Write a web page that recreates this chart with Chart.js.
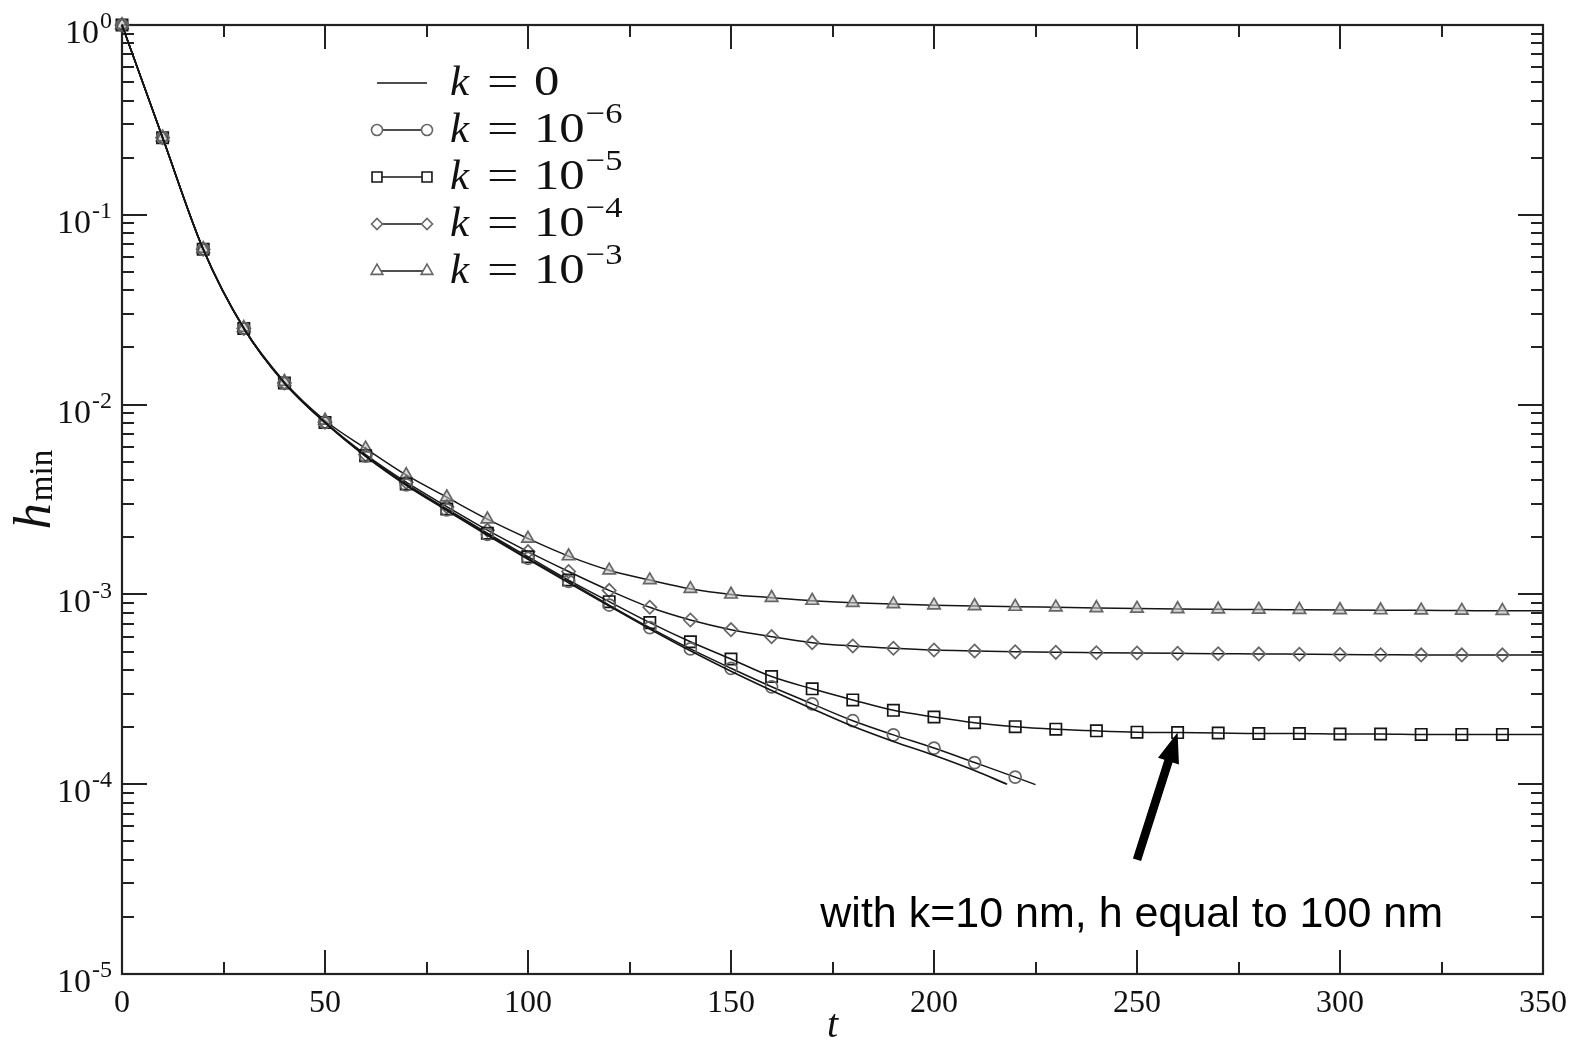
<!DOCTYPE html>
<html>
<head>
<meta charset="utf-8">
<script src="https://cdn.jsdelivr.net/npm/chart.js@4.4.1/dist/chart.umd.min.js"></script>
<style>
html,body{margin:0;padding:0;background:#fff;}
#wrap{width:1577px;height:1044px;}
canvas{display:block;}
</style>
</head>
<body>
<div id="wrap"><canvas id="c" width="1577" height="1044"></canvas></div>
<script>
// ---------------- data ----------------
const tK0 = [0,10,20,30,40,50,60,70,80,90,100,110,120,130,140,150,160,170,180,190,200,210,218];
const hK0 = [1.0,0.255,0.0658,0.0252,0.0130,0.00803,0.00534,0.00376,0.00277,0.00205,0.00153,0.00115,0.000868,0.000658,0.000505,0.000394,0.000312,0.000250,0.000202,0.000168,0.000142,0.000118,0.000100];

const tK6 = [0,10,20,30,40,50,60,70,80,90,100,110,120,130,140,150,160,170,180,190,200,210,220,225];
const hK6 = [1.0,0.255,0.0658,0.0252,0.0130,0.00805,0.00535,0.00378,0.00279,0.00207,0.00155,0.00117,0.000879,0.000668,0.000516,0.000408,0.000326,0.000265,0.000216,0.000182,0.000155,0.000130,0.000109,0.0000995];

const tLong = [0,10,20,30,40,50,60,70,80,90,100,110,120,130,140,150,160,170,180,190,200,210,220,230,240,250,260,270,280,290,300,310,320,330,340,350];
const hK5 = [1.0,0.255,0.0658,0.0252,0.0130,0.00805,0.00538,0.00382,0.00282,0.00210,0.00158,0.00119,0.000916,0.000710,0.000563,0.000457,0.000369,0.000318,0.000278,0.000245,0.000226,0.000211,0.000201,0.000195,0.000191,0.000188,0.000187,0.000186,0.000185,0.000185,0.000184,0.000184,0.000183,0.000183,0.000183,0.000183];
const hK4 = [1.0,0.255,0.0658,0.0252,0.0130,0.00808,0.00545,0.00390,0.00290,0.00218,0.00168,0.00132,0.00105,0.000855,0.000733,0.000652,0.000599,0.000557,0.000535,0.000520,0.000509,0.000503,0.000498,0.000495,0.000493,0.000491,0.000489,0.000487,0.000486,0.000484,0.000482,0.000481,0.000480,0.000480,0.000480,0.000480];
const hK3 = [1.0,0.256,0.0662,0.0254,0.0132,0.00825,0.00588,0.00426,0.00325,0.00249,0.00197,0.00159,0.00134,0.00119,0.00107,0.00100,0.000961,0.000927,0.000904,0.000889,0.000876,0.000869,0.000862,0.000855,0.000848,0.000842,0.000838,0.000835,0.000832,0.000830,0.000828,0.000826,0.000824,0.000822,0.000820,0.000820];

const xTicks = [0,50,100,150,200,250,300,350];
const yDecades = [0,-1,-2,-3,-4,-5];
const legendBase = ['0','10','10','10','10'];
const legendExp = [null,'\u22126','\u22125','\u22124','\u22123'];
const xTitle = 't';
const yTitleMain = 'h';
const yTitleSub = 'min';
const noteText = 'with k=10 nm, h equal to 100 nm';
// annotation anchors (data coordinates)
const arrowTip = {t:260, h:0.000187};
const arrowTail = {t:250, h:0.0000400};
const noteAnchor = {t:172, h:0.0000177};

// ---------------- build ----------------
const pts = (ts, hs) => ts.map((t,i)=>({x:t, y:hs[i]}));
const lastHidden = (r) => (ctx) => (ctx.dataIndex === ctx.dataset.data.length-1 ? 0 : r);

const LINE = '#151515';
const GREY = '#666666';

const datasets = [
  {label:'k = 0', data:pts(tK0,hK0), borderColor:LINE, borderWidth:1.7, pointRadius:0, pointStyle:false},
  {label:'k = 10\u22126', data:pts(tK6,hK6), borderColor:LINE, borderWidth:1.5, pointStyle:'circle', pointRadius:lastHidden(6), pointBorderColor:GREY, pointBackgroundColor:'rgba(255,255,255,0)', pointBorderWidth:1.7},
  {label:'k = 10\u22125', data:pts(tLong,hK5), borderColor:LINE, borderWidth:1.5, pointStyle:'rect', pointRadius:lastHidden(8), pointBorderColor:'#151515', pointBackgroundColor:'rgba(255,255,255,0)', pointBorderWidth:1.7},
  {label:'k = 10\u22124', data:pts(tLong,hK4), borderColor:LINE, borderWidth:1.5, pointStyle:'rectRot', pointRadius:lastHidden(6.6), pointBorderColor:GREY, pointBackgroundColor:'rgba(255,255,255,0)', pointBorderWidth:1.7},
  {label:'k = 10\u22123', data:pts(tLong,hK3), borderColor:LINE, borderWidth:1.5, pointStyle:'triangle', pointRadius:lastHidden(7.2), pointBorderColor:GREY, pointBackgroundColor:'rgba(190,190,190,0.6)', pointBorderWidth:1.7}
];
datasets.forEach(d=>{ d.cubicInterpolationMode='monotone'; d.clip=false; d.fill=false; });

const SERIF = '"Liberation Serif","DejaVu Serif",serif';

const decor = {
  id:'decor',
  beforeDatasetsDraw(chart){
    const {ctx, chartArea:a, scales} = chart;
    const xs = scales.x, ys = scales.y;
    ctx.save();
    ctx.strokeStyle = '#222';
    ctx.lineWidth = 2;
    ctx.beginPath();
    for (let i=0;i<xTicks.length;i++){
      const vals = [xTicks[i]];
      if (i<xTicks.length-1) vals.push((xTicks[i]+xTicks[i+1])/2);
      vals.forEach((v,j)=>{
        const px = Math.round(xs.getPixelForValue(v));
        const L = j===0 ? 24 : 12;
        ctx.moveTo(px, a.bottom); ctx.lineTo(px, a.bottom-L);
        ctx.moveTo(px, a.top); ctx.lineTo(px, a.top+L);
      });
    }
    yDecades.forEach(d=>{
      for (let m=1;m<=9;m++){
        const v = m*Math.pow(10,d);
        if (v>1.0000001) break;
        const py = Math.round(ys.getPixelForValue(v));
        const L = m===1 ? 25 : 12;
        ctx.moveTo(a.left, py); ctx.lineTo(a.left+L, py);
        ctx.moveTo(a.right, py); ctx.lineTo(a.right-L, py);
      }
    });
    ctx.stroke();
    ctx.lineWidth = 2.2;
    ctx.strokeRect(a.left, a.top, a.right-a.left, a.bottom-a.top);
    ctx.restore();
  },
  afterDraw(chart){
    const {ctx, chartArea:a, scales} = chart;
    const xs = scales.x, ys = scales.y;
    ctx.save();
    ctx.fillStyle = '#111';
    // y tick labels 10^d
    yDecades.forEach(d=>{
      const py = ys.getPixelForValue(Math.pow(10,d));
      const exp = d===0 ? '0' : '-' + (-d);
      ctx.font = '24px ' + SERIF;
      const ew = ctx.measureText(exp).width;
      const ex = a.left - 10 - ew;
      ctx.textBaseline = 'middle';
      ctx.textAlign = 'left';
      ctx.fillText(exp, ex, py - 3);
      ctx.font = '34px ' + SERIF;
      ctx.textAlign = 'right';
      ctx.fillText('10', ex - 1, py + 9);
    });
    // x title
    ctx.font = 'italic 40px ' + SERIF;
    ctx.textAlign = 'center';
    ctx.textBaseline = 'middle';
    ctx.fillText(xTitle, (a.left+a.right)/2, 1026);
    // y title (rotated)
    ctx.save();
    const cy = (a.top+a.bottom)/2 - 10;
    ctx.translate(50, cy);
    ctx.rotate(-Math.PI/2);
    ctx.font = 'italic 52px ' + SERIF;
    const hw = ctx.measureText(yTitleMain).width;
    ctx.font = '33px ' + SERIF;
    const mw = ctx.measureText(yTitleSub).width;
    const tot = hw + mw + 2;
    ctx.textAlign = 'left';
    ctx.textBaseline = 'alphabetic';
    ctx.font = 'italic 52px ' + SERIF;
    ctx.fillText(yTitleMain, -tot/2, 0);
    ctx.font = '33px ' + SERIF;
    ctx.fillText(yTitleSub, -tot/2 + hw + 2, 2);
    ctx.restore();

    // legend
    const lx1 = a.left + 255, lx2 = a.left + 305, tx = a.left + 328;
    const ry0 = a.top + 58, rdy = 47;
    chart.data.datasets.forEach((ds,i)=>{
      const y = ry0 + i*rdy;
      ctx.strokeStyle = LINE; ctx.lineWidth = 1.5;
      ctx.beginPath(); ctx.moveTo(lx1, y); ctx.lineTo(lx2, y); ctx.stroke();
      if (ds.pointStyle){
        const r = ds.pointStyle==='rect' ? 7 : (ds.pointStyle==='triangle' ? 6.8 : 5.5);
        ctx.strokeStyle = ds.pointBorderColor;
        ctx.fillStyle = '#fff';
        ctx.lineWidth = 1.6;
        [lx1, lx2].forEach(x=>Chart.helpers.drawPoint(ctx, {pointStyle:ds.pointStyle, radius:r, rotation:0, borderWidth:1.6}, x, y));
      }
      ctx.fillStyle = '#111';
      ctx.textAlign = 'left';
      ctx.textBaseline = 'alphabetic';
      const base = y + 12;
      ctx.font = 'italic 43px ' + SERIF;
      ctx.fillText('k', tx, base);
      ctx.font = '43px ' + SERIF;
      ctx.save();
      ctx.translate(tx + 37, base);
      ctx.scale(1.3, 1);
      ctx.fillText('=', 0, 0);
      ctx.restore();
      const nx = tx + 84;
      const sx = 1.18;
      const bw = ctx.measureText(legendBase[i]).width * sx;
      ctx.save();
      ctx.translate(nx, base);
      ctx.scale(sx, 1);
      ctx.fillText(legendBase[i], 0, 0);
      ctx.restore();
      if (legendExp[i] !== null){
        ctx.font = '30px ' + SERIF;
        ctx.save();
        ctx.translate(nx + bw + 1, base - 19);
        ctx.scale(1.15, 1);
        ctx.fillText(legendExp[i], 0, 0);
        ctx.restore();
      }
    });

    // annotation arrow
    const tipX = xs.getPixelForValue(arrowTip.t), tipY = ys.getPixelForValue(arrowTip.h);
    const tailX = xs.getPixelForValue(arrowTail.t), tailY = ys.getPixelForValue(arrowTail.h);
    const dx = tipX - tailX, dy = tipY - tailY, len = Math.hypot(dx,dy);
    const ux = dx/len, uy = dy/len, nx2 = -uy, ny2 = ux;
    const headL = 30, headW = 11, shaftW = 4.3;
    const bx = tipX - ux*headL, by = tipY - uy*headL;
    ctx.fillStyle = '#000';
    ctx.beginPath();
    ctx.moveTo(tailX + nx2*shaftW, tailY + ny2*shaftW);
    ctx.lineTo(bx + nx2*shaftW, by + ny2*shaftW);
    ctx.lineTo(bx + nx2*headW, by + ny2*headW);
    ctx.lineTo(tipX, tipY);
    ctx.lineTo(bx - nx2*headW, by - ny2*headW);
    ctx.lineTo(bx - nx2*shaftW, by - ny2*shaftW);
    ctx.lineTo(tailX - nx2*shaftW, tailY - ny2*shaftW);
    ctx.closePath();
    ctx.fill();
    // annotation text
    ctx.font = '43px "Liberation Sans", Arial, sans-serif';
    ctx.textAlign = 'left';
    ctx.textBaseline = 'alphabetic';
    ctx.fillText(noteText, xs.getPixelForValue(noteAnchor.t), ys.getPixelForValue(noteAnchor.h));
    ctx.restore();
  }
};

new Chart(document.getElementById('c'), {
  type:'line',
  data:{datasets},
  options:{
    responsive:false,
    animation:false,
    events:[],
    layout:{padding:{left:0, right:34, top:25, bottom:0}},
    plugins:{legend:{display:false}, tooltip:{enabled:false}},
    scales:{
      x:{
        type:'linear', min:0, max:350,
        grid:{display:false, drawTicks:false},
        border:{display:false},
        afterBuildTicks(scale){ scale.ticks = xTicks.map(v=>({value:v})); },
        ticks:{font:{family:'Liberation Serif', size:32}, color:'#111', padding:10, maxRotation:0, autoSkip:false},
        afterFit(scale){ scale.height = 70; }
      },
      y:{
        type:'logarithmic', min:1e-5, max:1,
        grid:{display:false, drawTicks:false},
        border:{display:false},
        ticks:{display:false},
        afterFit(scale){ scale.width = 122; }
      }
    }
  },
  plugins:[decor]
});
</script>
</body>
</html>
